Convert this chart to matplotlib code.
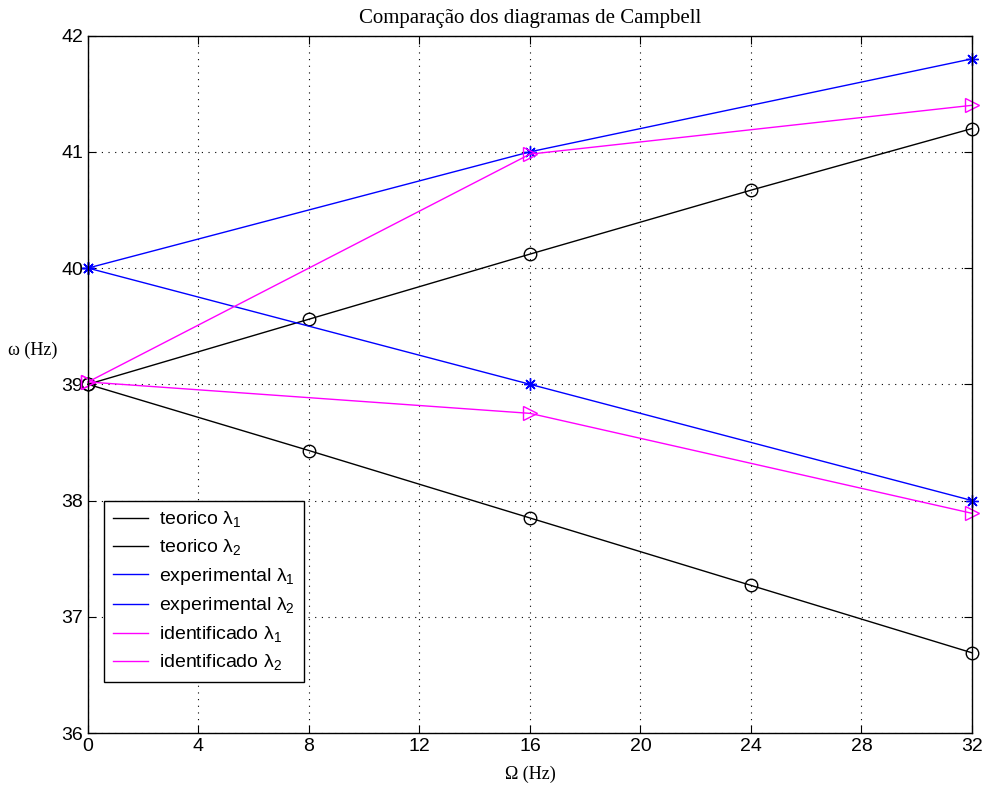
import numpy as np
import matplotlib
matplotlib.use("Agg")
import matplotlib.pyplot as plt
from matplotlib.lines import Line2D

# rotação (Hz) e frequências naturais (Hz)
omega_teo = [0, 8, 16, 24, 32]
teo_l1 = [39.0, 39.56, 40.12, 40.67, 41.20]
teo_l2 = [39.0, 38.43, 37.85, 37.27, 36.69]

omega_exp = [0, 16, 32]
exp_l1 = [40.0, 41.0, 41.8]
exp_l2 = [40.0, 39.0, 38.0]

omega_id = [0, 16, 32]
id_l1 = [39.02, 40.98, 41.40]
id_l2 = [39.02, 38.75, 37.89]

x_ticks = [0, 4, 8, 12, 16, 20, 24, 28, 32]
y_ticks = [36, 37, 38, 39, 40, 41, 42]

plt.rcParams['font.family'] = ['Liberation Sans', 'DejaVu Sans']
plt.rcParams['mathtext.fontset'] = 'custom'
plt.rcParams['mathtext.rm'] = 'Liberation Sans'

fig = plt.figure(figsize=(9.86, 7.87), dpi=100)
ax = fig.add_axes([0.0892, 0.0686, 0.8966, 0.8862])

mk = dict(markerfacecolor='none', markeredgewidth=1.0, linewidth=1.0, clip_on=False)
ax.plot(omega_teo, teo_l1, 'k-', marker='o', markersize=9, markeredgecolor='k', **mk)
ax.plot(omega_teo, teo_l2, 'k-', marker='o', markersize=9, markeredgecolor='k', **mk)
ax.plot(omega_exp, exp_l1, '-', color='#0000ff', marker=(8, 2, 0), markersize=9,
        markeredgecolor='#0000ff', **mk)
ax.plot(omega_exp, exp_l2, '-', color='#0000ff', marker=(8, 2, 0), markersize=9,
        markeredgecolor='#0000ff', **mk)
ax.plot(omega_id, id_l1, '-', color='#ff00ff', marker='>', markersize=10,
        markeredgecolor='#ff00ff', **mk)
ax.plot(omega_id, id_l2, '-', color='#ff00ff', marker='>', markersize=10,
        markeredgecolor='#ff00ff', **mk)

ax.set_xlim(0, 32)
ax.set_ylim(36, 42)
ax.set_xticks(x_ticks)
ax.set_yticks(y_ticks)
ax.tick_params(direction='in', length=6, labelsize=14, top=True, right=True,
               labeltop=False, labelright=False)
ax.grid(True, linestyle=(0, (1, 5)), color='k', linewidth=0.8)
for s in ax.spines.values():
    s.set_linewidth(1.0)

ax.set_title('Comparação dos diagramas de Campbell', family='Liberation Serif', fontsize=15, pad=9)
ax.set_xlabel('Ω (Hz)', family='Liberation Serif', fontsize=13, labelpad=8)
fig.text(0.008, 1 - 350 / 787, 'ω (Hz)', family='Liberation Serif', fontsize=13,
         ha='left', va='center')

# legenda só com as linhas
handles = [
    Line2D([], [], color='k', lw=1.0),
    Line2D([], [], color='k', lw=1.0),
    Line2D([], [], color='#0000ff', lw=1.0),
    Line2D([], [], color='#0000ff', lw=1.0),
    Line2D([], [], color='#ff00ff', lw=1.0),
    Line2D([], [], color='#ff00ff', lw=1.0),
]
labels = ['teorico λ$_{1}$', 'teorico λ$_{2}$',
          'experimental λ$_{1}$', 'experimental λ$_{2}$',
          'identificado λ$_{1}$', 'identificado λ$_{2}$']
leg = ax.legend(handles, labels, loc='lower left', bbox_to_anchor=(0.018, 0.073),
                fontsize=14, frameon=True, fancybox=False, edgecolor='k',
                framealpha=1, handlelength=1.8, handletextpad=0.6,
                labelspacing=0.42, borderpad=0.45, borderaxespad=0)
leg.get_frame().set_linewidth(1.0)

fig.savefig('out.png', dpi=100)
